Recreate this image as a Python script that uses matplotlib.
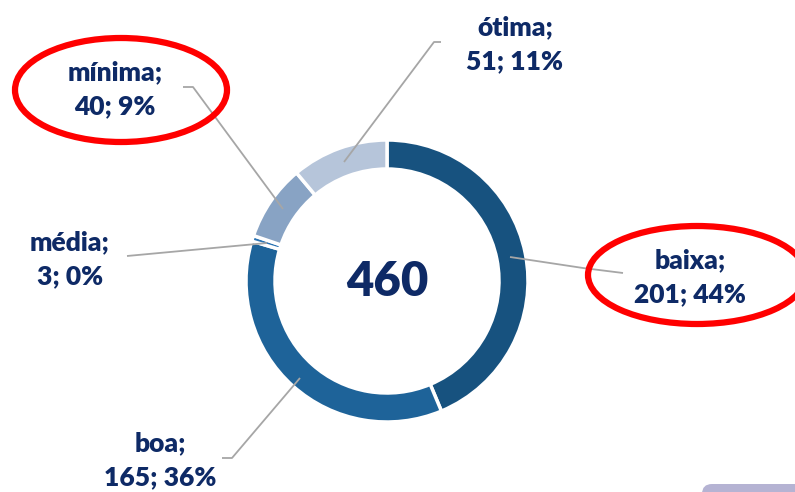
import matplotlib.pyplot as plt
from matplotlib.patches import Ellipse, FancyBboxPatch

# data
categories = ["baixa", "boa", "média", "mínima", "ótima"]
counts = [201, 165, 3, 40, 51]
percents = ["44%", "36%", "0%", "9%", "11%"]
total = 460

colors = ["#17527F", "#1E6399", "#2B73B3", "#88A3C4", "#B6C5DA"]
navy = "#0E2A66"
plt.rcParams['font.family'] = ['Lato', 'DejaVu Sans']

W, H = 795, 492
fig = plt.figure(figsize=(W / 100, H / 100), dpi=100)
ax = fig.add_axes([0, 0, 1, 1])
ax.set_xlim(0, W)
ax.set_ylim(0, H)
ax.set_aspect('equal')
ax.axis('off')

cx, cy, r = 387, H - 281, 141
ax.pie(counts, colors=colors, startangle=90, counterclock=False,
       center=(cx, cy), radius=r, frame=True,
       wedgeprops=dict(width=29, edgecolor='white', linewidth=2.5))
ax.set_xlim(0, W)
ax.set_ylim(0, H)
ax.axis('off')

ax.text(cx, cy - 1, str(total), ha='center', va='center', fontsize=34,
        fontweight='heavy', color=navy)

# label positions (pixel coords, y from top) and leader lines
label_pos = {
    "baixa": (690, 277),
    "boa": (160, 460),
    "média": (70, 259),
    "mínima": (115, 89),
    "ótima": (515, 44),
}
leaders = {
    "baixa": [(510, 257), (583, 268), (623, 273)],
    "boa": [(300, 378), (232, 458), (222, 458)],
    "média": [(267, 243), (127, 256)],
    "mínima": [(283, 209), (193, 87), (183, 87)],
    "ótima": [(344, 162), (434, 42), (441, 42)],
}
for cat, n, p in zip(categories, counts, percents):
    pts = leaders[cat]
    ax.plot([q[0] for q in pts], [H - q[1] for q in pts], color='#A6A6A6', lw=1.3,
            solid_capstyle='butt', zorder=1)
    x, y = label_pos[cat]
    ax.text(x, H - y, f"{cat};\n{n}; {p}", ha='center', va='center', fontsize=19,
            fontweight='heavy', color=navy, linespacing=1.5)

# red highlight ellipses
ax.add_patch(Ellipse((121, H - 90), 212, 104, fill=False, edgecolor='#FF0000', lw=4.5))
ax.add_patch(Ellipse((697, H - 275), 218, 98, fill=False, edgecolor='#FF0000', lw=4.5))

# corner shape
ax.add_patch(FancyBboxPatch((702, -20), 120, 28, boxstyle='round,pad=0,rounding_size=10',
                            facecolor='#B5B3D3', edgecolor='none'))

fig.savefig('out.png', dpi=100)
